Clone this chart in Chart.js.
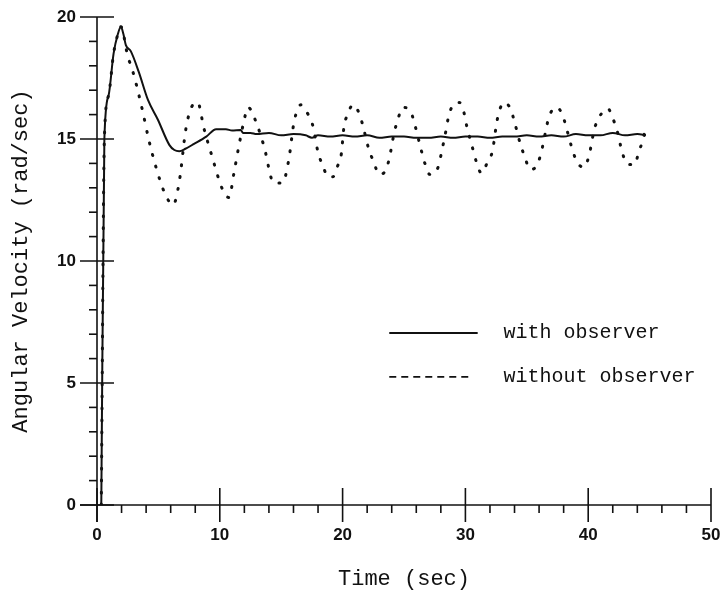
<!DOCTYPE html>
<html>
<head>
<meta charset="utf-8">
<script src="https://cdn.jsdelivr.net/npm/chart.js@4.4.1/dist/chart.umd.min.js"></script>
<style>
  html, body { margin: 0; padding: 0; background: #fff; }
  canvas { display: block; }
</style>
</head>
<body>
<canvas id="c" width="721" height="590"></canvas>
<script>
// ---- data ----
const xTickLabels = [0, 10, 20, 30, 40, 50];
const yTickLabels = [0, 5, 10, 15, 20];
const xMinorStep = 2;
const yMinorStep = 1;

const seriesNames = ['with observer', 'without observer'];

// with observer (solid)
const tWith = [0.35, 0.6, 0.95, 1.35, 1.7, 1.95, 2.15, 2.35, 2.75, 3.4, 4.15, 4.95, 5.9, 6.3, 6.7, 7.2, 7.9, 8.9, 9.7, 10.5, 11.0, 11.7, 11.9, 12.5, 13, 14, 15, 16, 17, 17.5, 18, 19, 20, 21, 22, 23, 24, 25, 26, 27, 28, 29, 30, 31, 32, 33, 34, 35, 36, 37, 38, 39, 40, 41, 42, 43, 44, 44.7];
const vWith = [0, 15.0, 16.8, 18.5, 19.3, 19.6, 19.3, 18.85, 18.6, 17.75, 16.6, 15.8, 14.75, 14.55, 14.5, 14.6, 14.8, 15.1, 15.4, 15.4, 15.35, 15.37, 15.25, 15.25, 15.2, 15.25, 15.15, 15.2, 15.15, 15.05, 15.15, 15.1, 15.15, 15.1, 15.15, 15.05, 15.1, 15.1, 15.05, 15.05, 15.1, 15.05, 15.1, 15.1, 15.05, 15.1, 15.1, 15.15, 15.1, 15.15, 15.1, 15.2, 15.15, 15.15, 15.25, 15.15, 15.2, 15.15];

// without observer (dotted)
const tWithout = [0.35, 0.6, 0.95, 1.35, 1.7, 1.95, 2.5, 2.9, 3.6, 4.25, 4.8, 5.5, 6.2, 6.7, 7.25, 7.8, 8.2, 8.7, 9.3, 10.25, 10.75, 11.15, 11.55, 11.95, 12.3, 12.95, 13.6, 14.4, 15.1, 15.6, 16.05, 16.6, 17.2, 17.6, 18.0, 18.4, 18.8, 19.2, 19.6, 19.9, 20.1, 20.4, 20.85, 21.35, 21.65, 22.15, 22.55, 22.95, 23.5, 23.8, 24.2, 24.5, 24.9, 25.6, 25.9, 26.4, 26.7, 27.1, 27.7, 28.2, 28.4, 28.6, 29.0, 29.5, 29.9, 30.1, 30.6, 30.9, 31.3, 31.8, 32.2, 32.5, 32.7, 33.2, 33.7, 34.0, 34.5, 34.85, 35.25, 35.8, 36.15, 36.55, 36.8, 37.4, 37.9, 38.2, 38.75, 39.15, 39.7, 40.1, 40.5, 40.9, 41.6, 42.0, 42.35, 42.8, 43.25, 43.8, 44.1, 44.45, 44.7];
const vWithout = [0, 15.0, 16.8, 18.5, 19.3, 19.6, 18.4, 17.8, 16.4, 14.9, 13.85, 12.8, 12.3, 13.25, 15.45, 16.4, 16.5, 15.45, 14.4, 12.9, 12.6, 13.6, 14.7, 15.7, 16.3, 15.7, 14.7, 13.2, 13.2, 14.1, 15.7, 16.4, 16.0, 15.5, 14.45, 13.9, 13.45, 13.45, 13.9, 14.4, 15.45, 16.0, 16.4, 16.05, 15.55, 14.55, 14.05, 13.55, 13.7, 14.2, 15.25, 15.8, 16.3, 16.05, 15.55, 14.55, 14.0, 13.55, 13.75, 14.8, 15.3, 15.85, 16.4, 16.5, 16.05, 15.55, 14.6, 14.05, 13.6, 14.05, 14.5, 15.5, 16.05, 16.5, 16.2, 15.7, 14.75, 14.25, 13.75, 13.9, 14.4, 15.35, 15.9, 16.3, 16.0, 15.5, 14.5, 14.0, 13.85, 14.4, 15.4, 15.9, 16.25, 15.85, 15.35, 14.4, 13.95, 13.95, 14.45, 14.95, 15.5];

const ink = '#111';
const toXY = (ts, vs) => ts.map((t, i) => ({ x: t, y: vs[i] }));

// ---- axes with inside/outside tick marks ----
const axisTicks = {
  id: 'axisTicks',
  afterDraw(chart) {
    const { ctx, scales: { x, y } } = chart;
    const x0 = x.getPixelForValue(0);
    const y0 = y.getPixelForValue(0);
    const seg = (a, b, c, d) => { ctx.beginPath(); ctx.moveTo(a, b); ctx.lineTo(c, d); ctx.stroke(); };
    ctx.save();
    ctx.strokeStyle = ink;
    ctx.lineWidth = 1.6;
    // axis lines
    seg(x0 - 17, y0, x.getPixelForValue(xTickLabels[xTickLabels.length - 1]), y0);
    seg(x0, y.getPixelForValue(yTickLabels[yTickLabels.length - 1]), x0, y0 + 17);
    // x major / minor
    xTickLabels.forEach(v => { const p = x.getPixelForValue(v); seg(p, y0 - 17, p, y0 + 17); });
    for (let v = 0; v <= 50; v += xMinorStep) {
      if (v % 10 === 0) continue;
      const p = x.getPixelForValue(v); seg(p, y0, p, y0 + 8);
    }
    // y major / minor
    yTickLabels.forEach(v => { const p = y.getPixelForValue(v); seg(x0 - 17, p, x0 + 17, p); });
    for (let v = 0; v <= 20; v += yMinorStep) {
      if (v % 5 === 0) continue;
      const p = y.getPixelForValue(v); seg(x0 - 8, p, x0, p);
    }
    ctx.restore();
  }
};

// ---- in-plot legend ----
const legendBox = {
  id: 'legendBox',
  afterDraw(chart) {
    const { ctx, scales: { x, y } } = chart;
    const xs = x.getPixelForValue(23.8), xe = x.getPixelForValue(31.0), xt = x.getPixelForValue(33.1);
    const rows = [y.getPixelForValue(7.05), y.getPixelForValue(5.25)];
    ctx.save();
    ctx.strokeStyle = ink;
    ctx.fillStyle = ink;
    ctx.font = '20px "Liberation Mono", "DejaVu Sans Mono", monospace';
    ctx.textBaseline = 'middle';
    ctx.lineWidth = 1.8;
    ctx.beginPath(); ctx.moveTo(xs, rows[0]); ctx.lineTo(xe, rows[0]); ctx.stroke();
    ctx.setLineDash([7, 5]);
    ctx.beginPath(); ctx.moveTo(xs, rows[1]); ctx.lineTo(xe - 6, rows[1]); ctx.stroke();
    ctx.setLineDash([]);
    ctx.fillText(seriesNames[0], xt, rows[0]);
    ctx.fillText(seriesNames[1], xt, rows[1]);
    ctx.restore();
  }
};

new Chart(document.getElementById('c'), {
  type: 'line',
  data: {
    datasets: [
      {
        label: seriesNames[0],
        data: toXY(tWith, vWith),
        borderColor: ink,
        borderWidth: 2,
        pointRadius: 0,
        cubicInterpolationMode: 'monotone',
        fill: false
      },
      {
        label: seriesNames[1],
        data: toXY(tWithout, vWithout),
        borderColor: ink,
        borderWidth: 3,
        borderDash: [1, 11],
        borderCapStyle: 'round',
        pointRadius: 0,
        cubicInterpolationMode: 'monotone',
        fill: false
      }
    ]
  },
  options: {
    responsive: false,
    animation: false,
    layout: { padding: { top: 17, right: 10, left: 0, bottom: 0 } },
    plugins: { legend: { display: false }, tooltip: { enabled: false } },
    scales: {
      x: {
        type: 'linear',
        min: 0, max: 50,
        grid: { display: false, drawTicks: false },
        border: { display: false },
        afterFit(s) { s.height = 85; s.paddingLeft = 0; s.paddingRight = 0; },
        afterBuildTicks(s) { s.ticks = xTickLabels.map(v => ({ value: v })); },
        ticks: {
          color: ink,
          padding: 20,
          font: { family: '"Liberation Sans", Arial, sans-serif', size: 17, weight: 'bold' }
        },
        title: {
          display: true,
          text: 'Time (sec)',
          color: ink,
          padding: 0,
          font: { family: '"Liberation Mono", "DejaVu Sans Mono", monospace', size: 22, lineHeight: 1 }
        }
      },
      y: {
        type: 'linear',
        min: 0, max: 20,
        grid: { display: false, drawTicks: false },
        border: { display: false },
        afterFit(s) { s.width = 97; s.paddingTop = 0; s.paddingBottom = 0; },
        afterBuildTicks(s) { s.ticks = yTickLabels.map(v => ({ value: v })); },
        ticks: {
          color: ink,
          padding: 21,
          font: { family: '"Liberation Sans", Arial, sans-serif', size: 17, weight: 'bold' }
        },
        title: {
          display: true,
          text: 'Angular Velocity (rad/sec)',
          color: ink,
          padding: { top: 10, bottom: 0 },
          font: { family: '"Liberation Mono", "DejaVu Sans Mono", monospace', size: 22, lineHeight: 1 }
        }
      }
    }
  },
  plugins: [axisTicks, legendBox]
});
</script>
</body>
</html>
